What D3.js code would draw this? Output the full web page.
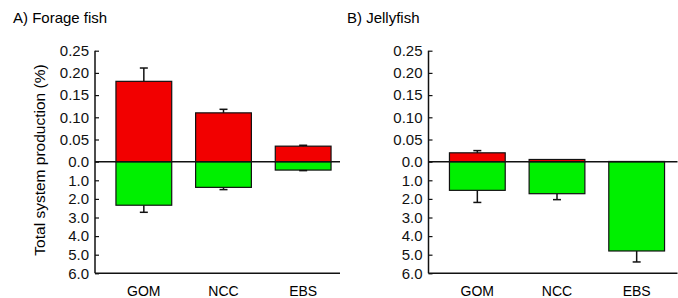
<!DOCTYPE html>
<html>
<head>
<meta charset="utf-8">
<script src="https://cdn.jsdelivr.net/npm/d3@7"></script>
<style>
  body { margin: 0; background: #fff; }
  svg { display: block; font-family: "Liberation Sans", Arial, sans-serif; }
</style>
</head>
<body>
<svg></svg>
<script>
const size = {w: 678, h: 298};
const svg = d3.select('svg').attr('width', size.w).attr('height', size.h);

// data
const regions = ['GOM', 'NCC', 'EBS'];
const topTicks = [0.05, 0.10, 0.15, 0.20, 0.25];
const bottomTicks = [0, 1, 2, 3, 4, 5, 6];

// forage fish: red (up, small scale) and green (down, big scale), with error bar ends
const forageUp = [0.181, 0.110, 0.035];
const forageUpErr = [0.211, 0.118, 0.037];
const forageDown = [2.34, 1.38, 0.45];
const forageDownErr = [2.72, 1.50, 0.48];

// jellyfish
const jellyUp = [0.020, 0.005, 0.0005];
const jellyUpErr = [0.025, 0.006, 0.0005];
const jellyDown = [1.54, 1.72, 4.80];
const jellyDownErr = [2.19, 2.04, 5.39];

const zeroY = 161.7;
const yTop = d3.scaleLinear().domain([0, 0.25]).range([zeroY, 50.7]);
const yBottom = d3.scaleLinear().domain([0, 6]).range([zeroY, 273.3]);

const panels = [
  {title: 'A) Forage fish', titleX: 13, axisX: 95, width: 245, up: forageUp, upErr: forageUpErr, down: forageDown, downErr: forageDownErr},
  {title: 'B) Jellyfish', titleX: 347, axisX: 428.5, width: 249, up: jellyUp, upErr: jellyUpErr, down: jellyDown, downErr: jellyDownErr}
];

panels.forEach(p => drawPanel(p));

// y axis title, only on the left panel
svg.append('text')
  .attr('transform', `translate(45, 160) rotate(-90)`)
  .attr('text-anchor', 'middle')
  .style('font-size', '15.5px')
  .text('Total system production (%)');

function drawPanel(p) {
  const g = svg.append('g').attr('transform', `translate(${p.axisX},0)`);

  const x = d3.scaleBand()
    .domain(regions)
    .range([9, 248])
    .paddingInner(0.3)
    .paddingOuter(0.15);

  svg.append('text')
    .attr('x', p.titleX)
    .attr('y', 23)
    .style('font-size', '15px')
    .text(p.title);

  // bars, positive part
  g.selectAll('rect.up')
    .data(regions)
    .join('rect')
    .classed('up', true)
    .attr('x', d => x(d))
    .attr('width', x.bandwidth())
    .attr('y', (d, i) => yTop(p.up[i]))
    .attr('height', (d, i) => zeroY - yTop(p.up[i]))
    .attr('fill', '#f20000')
    .attr('stroke', '#111')
    .attr('stroke-width', 1.2);

  // bars, negative part
  g.selectAll('rect.down')
    .data(regions)
    .join('rect')
    .classed('down', true)
    .attr('x', d => x(d))
    .attr('width', x.bandwidth())
    .attr('y', zeroY)
    .attr('height', (d, i) => yBottom(p.down[i]) - zeroY)
    .attr('fill', '#00f000')
    .attr('stroke', '#111')
    .attr('stroke-width', 1.2);

  // error bars, one sided
  const err = g.append('g').attr('stroke', '#111').attr('stroke-width', 1.5);
  regions.forEach((d, i) => {
    const cx = x(d) + x.bandwidth() / 2;
    const pairs = [[yTop(p.up[i]), yTop(p.upErr[i])], [yBottom(p.down[i]), yBottom(p.downErr[i])]];
    pairs.forEach(([y0, y1]) => {
      if (Math.abs(y1 - y0) < 0.5) return;
      err.append('line').attr('x1', cx).attr('x2', cx).attr('y1', y0).attr('y2', y1);
      err.append('line').attr('x1', cx - 4).attr('x2', cx + 4).attr('y1', y1).attr('y2', y1);
    });
  });

  // left axes: small scale above zero, large scale below
  const axisTop = d3.axisLeft(yTop)
    .tickValues(topTicks)
    .tickFormat(d3.format('.2f'))
    .tickSizeInner(-4).tickSizeOuter(0).tickPadding(6);
  const axisBottom = d3.axisLeft(yBottom)
    .tickValues(bottomTicks)
    .tickFormat(d3.format('.1f'))
    .tickSizeInner(-4).tickSizeOuter(0).tickPadding(6);

  [axisTop, axisBottom].forEach(a => {
    const ax = g.append('g').call(a);
    ax.select('.domain').remove();
    ax.selectAll('line').attr('stroke', '#111').attr('stroke-width', 1.2);
    ax.selectAll('text').style('font-size', '15px').attr('fill', '#111')
      .style('font-family', '"Liberation Sans", Arial, sans-serif');
  });

  // vertical axis line
  g.append('line')
    .attr('x1', 0).attr('x2', 0)
    .attr('y1', yTop(0.25)).attr('y2', yBottom(6))
    .attr('stroke', '#111').attr('stroke-width', 1.5);

  // bottom axis line
  g.append('line')
    .attr('x1', 0).attr('x2', p.width)
    .attr('y1', yBottom(6)).attr('y2', yBottom(6))
    .attr('stroke', '#111').attr('stroke-width', 1.5);

  // zero line
  g.append('line')
    .attr('x1', 0).attr('x2', p.width)
    .attr('y1', zeroY).attr('y2', zeroY)
    .attr('stroke', '#111').attr('stroke-width', 1.5);

  // category labels
  g.selectAll('text.cat')
    .data(regions)
    .join('text')
    .classed('cat', true)
    .attr('x', d => x(d) + x.bandwidth() / 2)
    .attr('y', 296)
    .attr('text-anchor', 'middle')
    .style('font-size', '14px')
    .text(d => d);
}
</script>
</body>
</html>
